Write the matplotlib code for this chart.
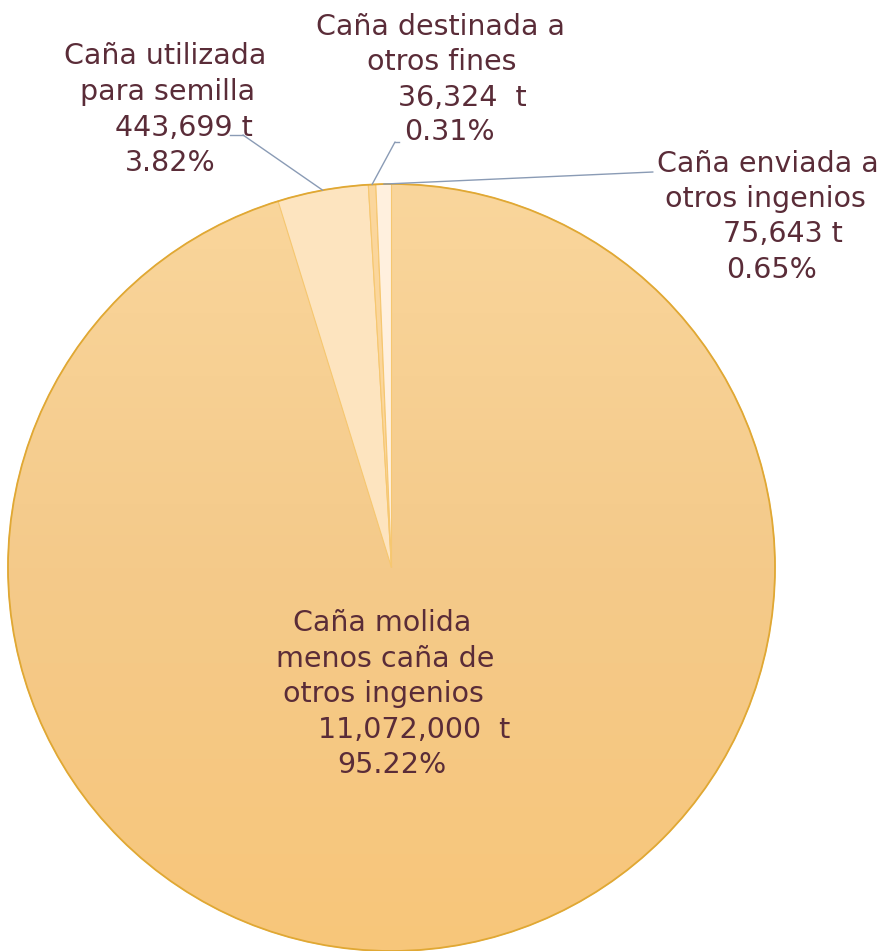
"""
Pie chart: destino de la caña de azúcar
"""
import matplotlib
matplotlib.use("Agg")
import matplotlib.pyplot as plt
import numpy as np
from matplotlib.colors import LinearSegmentedColormap

# data
categories = ["Caña molida\nmenos caña de\notros ingenios",
              "Caña utilizada\npara semilla",
              "Caña destinada a\notros fines",
              "Caña enviada a\notros ingenios"]
tonnes = [11072000, 443699, 36324, 75643]
percents = ["95.22%", "3.82%", "0.31%", "0.65%"]
tonne_labels = ["11,072,000  t", "443,699 t", "36,324  t", "75,643 t"]

W, H = 878, 951
TEXT = "#5a2c38"
LEADER = "#8a9bb5"
plt.rcParams["font.family"] = ["DejaVu Sans"]


def px(x, y):
    """pixel (from top left) -> figure fraction"""
    return x / W, 1 - y / H


fig = plt.figure(figsize=(W / 100, H / 100), dpi=100)
fig.patch.set_facecolor("white")
# pie centre (391.5, 567.5), radius 383.5 px
ax = fig.add_axes([8 / W, 0.0, 767 / W, 767 / H])

colors = ["#f8cd8a", "#fde4bf", "#fbd69c", "#fff0de"]
wedges, _ = ax.pie(tonnes, colors=colors, startangle=90, counterclock=False,
                   radius=1, wedgeprops=dict(edgecolor="#f6c770", linewidth=0.8))

# vertical gradient on the big slice
cmap = LinearSegmentedColormap.from_list("g", ["#f8c67a", "#f4ca8a", "#fad69c"])
grad = np.linspace(0, 1, 256).reshape(-1, 1)
im = ax.imshow(grad, extent=[-1, 1, -1, 1], origin="lower", cmap=cmap,
               aspect="auto", zorder=1.5)
im.set_clip_path(wedges[0])
ax.set_xlim(-1, 1)
ax.set_ylim(-1, 1)
ax.set_aspect("equal")
ax.axis("off")
for w in wedges[1:]:
    w.set_zorder(2)

circle = plt.Circle((0, 0), 1, fill=False, edgecolor="#e0a834", linewidth=1.3,
                    zorder=3, clip_on=False)
ax.add_patch(circle)

# text blocks: (line, left x px, baseline y px)
blocks = [
    [(categories[0].split("\n")[0], 293, 631), (categories[0].split("\n")[1], 276, 667),
     (categories[0].split("\n")[2], 283, 702), (tonne_labels[0], 318, 738),
     (percents[0], 337, 773)],
    [(categories[1].split("\n")[0], 64, 64), (categories[1].split("\n")[1], 80, 100),
     (tonne_labels[1], 115, 136), (percents[1], 125, 171)],
    [(categories[2].split("\n")[0], 316, 35), (categories[2].split("\n")[1], 367, 70),
     (tonne_labels[2], 398, 106), (percents[2], 404, 140)],
    [(categories[3].split("\n")[0], 657, 172), (categories[3].split("\n")[1], 665, 207),
     (tonne_labels[3], 723, 242), (percents[3], 726, 278)],
]
for block in blocks:
    for line, x, y in block:
        fig.text(*px(x, y), line, ha="left", va="baseline", fontsize=20.5, color=TEXT)

# leader lines: (start px, knee px) per small slice
leaders = {1: [(230, 135), (243, 135)], 2: [(399, 142), (395, 142)], 3: [(653, 172), (653, 172)]}
for i, (start, knee) in leaders.items():
    w = wedges[i]
    mid = np.deg2rad((w.theta1 + w.theta2) / 2)
    anchor = (np.cos(mid), np.sin(mid))
    fig.add_artist(plt.Line2D([px(*start)[0], px(*knee)[0]], [px(*start)[1], px(*knee)[1]],
                              color=LEADER, linewidth=1.0))
    ax.annotate("", xy=anchor, xycoords="data", xytext=px(*knee), textcoords="figure fraction",
                arrowprops=dict(arrowstyle="-", color=LEADER, linewidth=1.0,
                                shrinkA=0, shrinkB=0), zorder=4)

fig.savefig("out.png", dpi=100)
